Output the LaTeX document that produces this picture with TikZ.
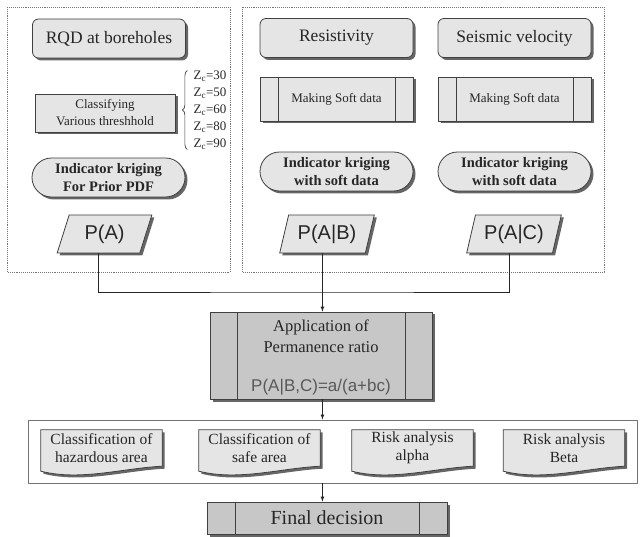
\documentclass[tikz,border=0pt]{standalone}
\usepackage{fontspec}
\setmainfont{Liberation Serif}
\newfontfamily\gulim{Liberation Sans}
\usetikzlibrary{shapes.geometric,shapes.misc,shadows,decorations.pathreplacing,backgrounds}

\tikzset{
  boxshadow/.style={drop shadow={shadow xshift=2.5pt, shadow yshift=-2.5pt, fill=black!60, opacity=1}},
  groupframe/.style={draw=black!55, densely dotted, line width=0.9pt},
  rbox/.style={rectangle, rounded corners=6pt, draw=black!75, line width=0.8pt, fill=black!10, boxshadow,
    minimum width=153pt, minimum height=39pt, inner sep=0pt, font=\fontsize{17.5}{20}\selectfont},
  sbox/.style={rectangle, draw=black!75, line width=0.8pt, fill=black!10, boxshadow, inner sep=0pt,
    align=center, font=\fontsize{13}{17}\selectfont},
  procbox/.style={sbox, path picture={
    \draw[black!75, line width=0.8pt] ([xshift=#1]path picture bounding box.north west) -- ([xshift=#1]path picture bounding box.south west);
    \draw[black!75, line width=0.8pt] ([xshift=-#1]path picture bounding box.north east) -- ([xshift=-#1]path picture bounding box.south east);}},
  kbox/.style={rounded rectangle, draw=black!75, line width=0.8pt, fill=black!10, boxshadow,
    minimum width=153pt, minimum height=39pt, inner sep=0pt, align=center, font=\fontsize{14.5}{18}\selectfont\bfseries},
  para/.style={trapezium, trapezium left angle=70, trapezium right angle=110, trapezium stretches=true,
    draw=black!75, line width=0.8pt, fill=black!10, boxshadow, minimum width=95pt, minimum height=38pt,
    inner sep=0pt, font=\gulim\fontsize{20}{22}\selectfont},
  docbox/.style={minimum width=121pt, minimum height=36pt, inner sep=0pt, align=center, font=\fontsize{15.5}{17.5}\selectfont},
  docpath/.style={draw=black!75, line width=0.8pt, fill=black!10, boxshadow},
  zclist/.style={inner sep=0pt, align=left, font=\fontsize{13}{17}\selectfont},
  bracedeco/.style={decorate, decoration={brace, amplitude=5pt}, draw=black!75, line width=0.7pt},
  arr/.style={-latex, draw=black!85, line width=0.7pt}
}

\begin{document}
\begin{tikzpicture}[x=1pt, y=-1pt, every node/.style={text=black!85}]
\useasboundingbox (0,0) rectangle (640,537);

% the two groups of inputs
\draw[groupframe] (7,7) rectangle (230,272);
\draw[groupframe] (242,7) rectangle (604,272);

\node (rqd) at (109,38.5) [rbox] {RQD at boreholes};
\node (res) at (336.5,38) [rbox] {Resistivity};
\node (sei) at (514.5,38) [rbox] {Seismic velocity};

\node (cls) at (105,113) [sbox, minimum width=140pt, minimum height=38pt] {Classifying\\Various threshhold};
\node (zc) at (210,110) [zclist] {Z\textsubscript{c}=30\\Z\textsubscript{c}=50\\Z\textsubscript{c}=60\\Z\textsubscript{c}=80\\Z\textsubscript{c}=90};
\draw[bracedeco] ([xshift=-6pt]zc.south west) -- ([xshift=-6pt]zc.north west);

\node (msb) at (336.5,99) [procbox=18pt, minimum width=153pt, minimum height=44pt] {Making Soft data};
\node (msc) at (514.5,99) [procbox=18pt, minimum width=153pt, minimum height=44pt] {Making Soft data};

\node (ikp) at (108.5,177.5) [kbox] {Indicator kriging\\For Prior PDF};
\node (ikb) at (336.5,171.5) [kbox] {Indicator kriging\\with soft data};
\node (ikc) at (514.5,171.5) [kbox] {Indicator kriging\\with soft data};

\node (pa) at (104.5,234) [para] {P(A)};
\node (pab) at (327,234) [para] {P(A|B)};
\node (pac) at (514,234) [para] {P(A|C)};

% combination
\node (app) at (321,355.5) [procbox=27pt, fill=black!22, minimum width=222pt, minimum height=87pt] {};
\node (apptxt) at (321,336) [align=center, font=\fontsize{16.5}{21}\selectfont] {Application of\\Permanence ratio};
\node (appeq) at (321,387) [font=\gulim\fontsize{17}{20}\selectfont, text=black!65] {P(A|B,C)=a/(a+bc)};

% results
\node (panel) at (332.5,451.5) [draw=black!55, line width=0.8pt, minimum width=609pt, minimum height=63pt, inner sep=0pt] {};
\node (haz) at (101.5,448) [docbox] {Classification of\\hazardous area};
\node (safe) at (259.5,448) [docbox] {Classification of\\safe area};
\node (alpha) at (412.5,448) [docbox] {Risk analysis\\alpha};
\node (beta) at (564,448) [docbox] {Risk analysis\\Beta};
\begin{scope}[on background layer]
  \foreach \n in {haz,safe,alpha,beta}
    \path[docpath] (\n.north west) -- (\n.north east) -- (\n.south east)
      .. controls +(-40pt,-2pt) and +(40pt,-10pt) .. ([yshift=-5pt]\n.south west) -- cycle;
\end{scope}

\node (fin) at (327,518) [procbox=28pt, fill=black!22, minimum width=240pt, minimum height=32pt, font=\fontsize{20}{22}\selectfont] {Final decision};

% connectors
\coordinate (jn) at (320,292);
\draw[black!85, line width=0.7pt] (pa.bottom side) |- (jn) -| (pac.bottom side);
\draw[arr] (pab.bottom side) -- (pab.bottom side |- app.north);
\draw[arr] (app.south -| pab.bottom side) -- (panel.north -| pab.bottom side);
\draw[arr] (panel.south -| pab.bottom side) -- (fin.north -| pab.bottom side);
\end{tikzpicture}
\end{document}
